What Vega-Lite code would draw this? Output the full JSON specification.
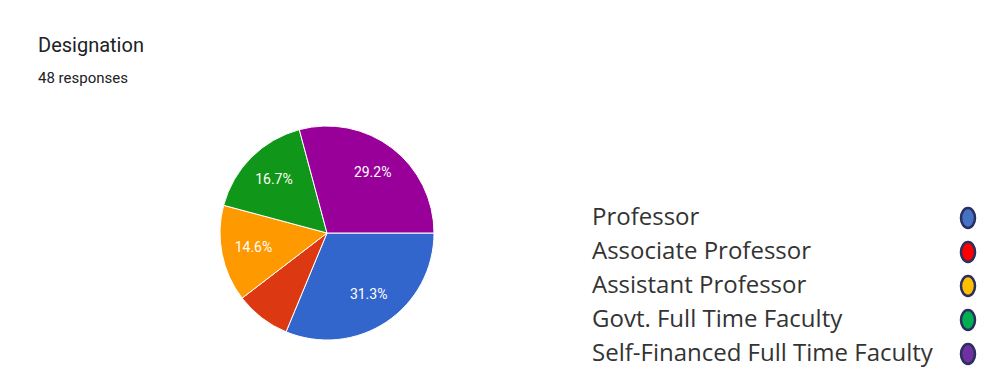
{
  "$schema": "https://vega.github.io/schema/vega-lite/v6.json",
  "background": "white",
  "padding": {"left": 38, "top": 36, "right": 11, "bottom": 3},
  "title": {
    "text": "Designation",
    "subtitle": "48 responses",
    "anchor": "start",
    "dx": -180,
    "font": "Roboto",
    "fontSize": 20,
    "fontWeight": "normal",
    "color": "#202124",
    "subtitleFont": "Roboto",
    "subtitleFontSize": 15,
    "subtitleColor": "#202124",
    "subtitlePadding": 15,
    "offset": 38
  },
  "config": {"view": {"stroke": null}},
  "datasets": {
    "d": [
      {"designation": "Professor", "count": 15, "order": 1},
      {"designation": "Associate Professor", "count": 4, "order": 2},
      {"designation": "Assistant Professor", "count": 7, "order": 3},
      {"designation": "Govt. Full Time Faculty", "count": 8, "order": 4},
      {"designation": "Self-Financed Full Time Faculty", "count": 14, "order": 5}
    ]
  },
  "spacing": 156,
  "resolve": {"scale": {"color": "independent", "x": "independent", "y": "independent"}},
  "hconcat": [
    {
      "width": 214,
      "height": 214,
      "data": {"name": "d"},
      "transform": [
        {"joinaggregate": [{"op": "sum", "field": "count", "as": "total"}]},
        {"calculate": "datum.count / datum.total", "as": "share"}
      ],
      "encoding": {
        "theta": {"field": "count", "type": "quantitative", "stack": true, "scale": {"range": [1.5708, 7.854]}},
        "order": {"field": "order", "type": "quantitative"}
      },
      "layer": [
        {
          "mark": {"type": "arc", "outerRadius": 107, "stroke": "white", "strokeWidth": 1},
          "encoding": {
            "color": {
              "field": "designation",
              "type": "nominal",
              "scale": {
                "domain": ["Professor", "Associate Professor", "Assistant Professor", "Govt. Full Time Faculty", "Self-Financed Full Time Faculty"],
                "range": ["#3366cc", "#dc3912", "#ff9900", "#109618", "#990099"]
              },
              "legend": null
            }
          }
        },
        {
          "mark": {"type": "text", "radius": 75, "fill": "white", "font": "Roboto", "fontSize": 14},
          "encoding": {
            "text": {"field": "share", "type": "quantitative", "format": ".1%"},
            "opacity": {"condition": {"test": "datum.share < 0.1", "value": 0}, "value": 1}
          }
        }
      ]
    },
    {
      "width": 376,
      "height": 245,
      "data": {"name": "d"},
      "encoding": {
        "y": {
          "field": "designation",
          "type": "nominal",
          "sort": ["Professor", "Associate Professor", "Assistant Professor", "Govt. Full Time Faculty", "Self-Financed Full Time Faculty"],
          "scale": {"type": "point", "range": [92, 228], "padding": 0},
          "axis": null
        }
      },
      "layer": [
        {
          "mark": {"type": "text", "align": "left", "baseline": "middle", "font": "Open Sans", "fontSize": 24, "color": "#333333"},
          "encoding": {
            "x": {"datum": "label", "type": "nominal", "scale": {"type": "point", "domain": ["label", "symbol"], "range": [0, 376], "padding": 0}, "axis": null},
            "text": {"field": "designation"}
          }
        },
        {
          "mark": {"type": "point", "filled": true, "shape": "M0,-1A0.7,1,0,1,1,0,1A0.7,1,0,1,1,0,-1Z", "size": 400, "stroke": "#2b2f5e", "strokeWidth": 2.5, "opacity": 1},
          "encoding": {
            "x": {"datum": "symbol", "type": "nominal"},
            "fill": {
              "field": "designation",
              "type": "nominal",
              "scale": {
                "domain": ["Professor", "Associate Professor", "Assistant Professor", "Govt. Full Time Faculty", "Self-Financed Full Time Faculty"],
                "range": ["#4472c4", "#ff0000", "#ffc000", "#00b050", "#7030a0"]
              },
              "legend": null
            }
          }
        }
      ]
    }
  ]
}
